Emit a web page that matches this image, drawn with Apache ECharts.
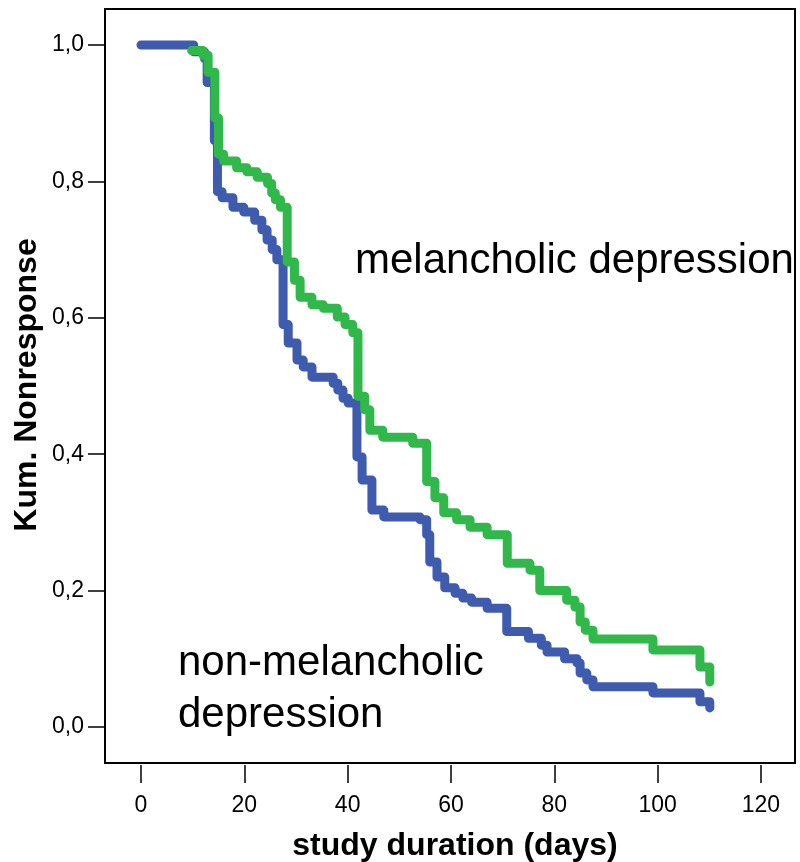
<!DOCTYPE html>
<html>
<head>
<meta charset="utf-8">
<script src="https://cdn.jsdelivr.net/npm/echarts@6/dist/echarts.min.js"></script>
<style>
html,body{margin:0;padding:0;background:#fff;}
#chart{width:800px;height:862px;}
</style>
</head>
<body>
<div id="chart"></div>
<script>
// Non-melancholic depression (blue)
var blueDays = [0, 10.2, 12.3, 12.8, 14.2, 14.8, 15.7, 17.8, 19.9, 22.0, 23.4, 24.4, 25.4, 26.3, 27.5, 28.5, 30.2, 31.4, 33.1, 37.2, 38.1, 39.1, 40.1, 41.8, 42.8, 44.7, 47.0, 54.0, 55.3, 55.9, 57.3, 58.8, 60.8, 62.3, 64.0, 67.0, 70.8, 75.0, 77.5, 78.6, 82.0, 84.4, 85.0, 86.3, 87.5, 99.1, 108.2, 110.1];
var blueVals = [1.0, 0.99, 0.98, 0.945, 0.86, 0.785, 0.776, 0.762, 0.755, 0.743, 0.729, 0.714, 0.70, 0.685, 0.59, 0.563, 0.538, 0.528, 0.513, 0.504, 0.494, 0.482, 0.475, 0.396, 0.362, 0.318, 0.308, 0.304, 0.282, 0.242, 0.22, 0.204, 0.196, 0.189, 0.183, 0.174, 0.14, 0.13, 0.12, 0.11, 0.10, 0.094, 0.079, 0.069, 0.059, 0.05, 0.037, 0.028];
// Melancholic depression (green)
var greenDays = [9.8, 12.0, 13.0, 14.3, 15.0, 16.0, 18.5, 20.5, 22.5, 24.5, 25.3, 26.0, 27.0, 28.3, 29.7, 30.8, 33.1, 35.3, 38.0, 39.5, 41.0, 42.0, 43.3, 44.3, 46.8, 52.6, 55.3, 56.9, 58.6, 61.1, 63.7, 67.0, 70.9, 75.3, 77.2, 82.4, 84.0, 85.0, 86.0, 87.5, 99.1, 108.2, 110.1];
var greenVals = [0.992, 0.985, 0.96, 0.893, 0.84, 0.83, 0.82, 0.814, 0.806, 0.797, 0.783, 0.773, 0.762, 0.682, 0.655, 0.63, 0.619, 0.614, 0.601, 0.59, 0.578, 0.485, 0.465, 0.435, 0.425, 0.416, 0.36, 0.336, 0.314, 0.304, 0.293, 0.282, 0.24, 0.23, 0.2, 0.186, 0.176, 0.154, 0.142, 0.129, 0.113, 0.088, 0.066];

var xTicks = [0, 20, 40, 60, 80, 100, 120];
var yTicks = [0, 0.2, 0.4, 0.6, 0.8, 1.0];

var xTitle = 'study duration (days)';
var yTitle = 'Kum. Nonresponse';
var labelMel = 'melancholic depression';
var labelNonMel = ['non-melancholic', 'depression'];

function pairs(xs, ys) { return xs.map(function (x, i) { return [x, ys[i]]; }); }

var FONT = '"Liberation Sans", Arial, sans-serif';
var chart = echarts.init(document.getElementById('chart'));
chart.setOption({
  animation: false,
  backgroundColor: '#fff',
  grid: { left: 105, right: 5, top: 9, bottom: 99, show: true, borderColor: '#000', borderWidth: 2, backgroundColor: 'transparent' },
  xAxis: {
    type: 'value', min: -6.97, max: 126.6, offset: 2,
    splitLine: { show: false }, axisLine: { show: false, onZero: false },
    axisTick: { show: true, inside: false, customValues: xTicks, length: 18, lineStyle: { color: '#000', width: 1.5 } },
    axisLabel: { customValues: xTicks, margin: 29, color: '#000', fontSize: 23, fontFamily: FONT }
  },
  yAxis: {
    type: 'value', min: -0.0528, max: 1.0528,
    splitLine: { show: false }, axisLine: { show: false, onZero: false },
    axisTick: { show: true, inside: false, customValues: yTicks, length: 17, lineStyle: { color: '#000', width: 1.5 } },
    axisLabel: { customValues: yTicks, margin: 21, color: '#000', fontSize: 23, fontFamily: FONT,
      formatter: function (v) { return v.toFixed(1).replace('.', ','); } }
  },
  series: [
    { type: 'line', step: 'end', showSymbol: false, symbol: 'none', data: pairs(blueDays, blueVals), z: 2,
      lineStyle: { color: '#3F5BAE', width: 9, cap: 'round', join: 'round' } },
    { type: 'line', step: 'end', showSymbol: false, symbol: 'none', data: pairs(greenDays, greenVals), z: 3,
      lineStyle: { color: '#31B84B', width: 9, cap: 'round', join: 'round' } }
  ],
  graphic: [
    { type: 'text', left: 355, top: 240, style: { text: labelMel, font: '42px ' + FONT, fill: '#000' } },
    { type: 'text', left: 178, top: 642, style: { text: labelNonMel[0], font: '42px ' + FONT, fill: '#000' } },
    { type: 'text', left: 178, top: 694, style: { text: labelNonMel[1], font: '42px ' + FONT, fill: '#000' } },
    { type: 'text', x: 455, y: 846, style: { text: xTitle, font: 'bold 32px ' + FONT, fill: '#000', align: 'center', verticalAlign: 'middle' } },
    { type: 'text', x: 27, y: 385, rotation: Math.PI / 2, style: { text: yTitle, font: 'bold 32px ' + FONT, fill: '#000', align: 'center', verticalAlign: 'middle' } }
  ]
});
</script>
</body>
</html>
